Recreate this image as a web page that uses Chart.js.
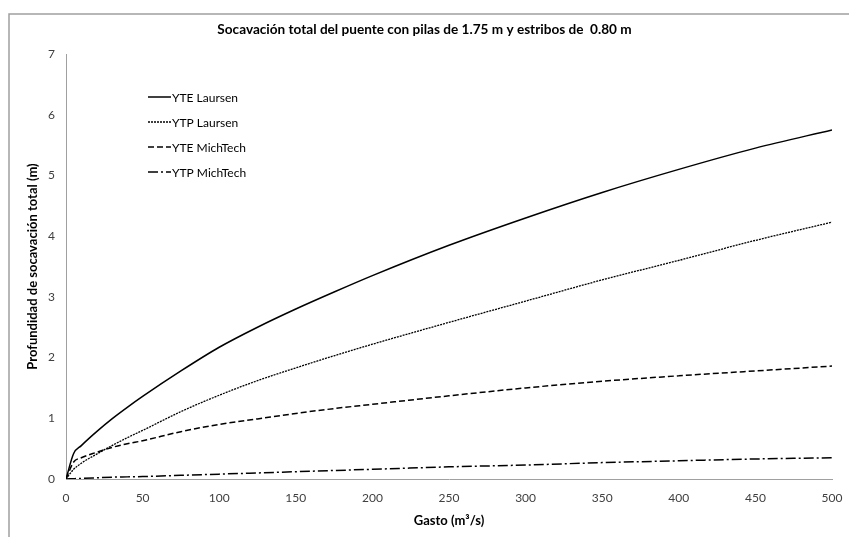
<!DOCTYPE html>
<html>
<head>
<meta charset="utf-8">
<script src="https://cdn.jsdelivr.net/npm/chart.js@4.4.0/dist/chart.umd.min.js"></script>
<style>
  html, body { margin: 0; padding: 0; background: #fff; }
  #wrap { width: 849px; height: 537px; }
</style>
</head>
<body>
<div id="wrap"><canvas id="myChart" width="849" height="537"></canvas></div>
<script>
// Gasto (m3/s)
const gasto = [0, 5, 10, 20, 30, 40, 50, 75, 100, 125, 150, 175, 200, 250, 300, 350, 400, 450, 500];
// profundidad de socavacion total (m)
const yteLaursen = [0, 0.42, 0.55, 0.78, 0.99, 1.18, 1.36, 1.78, 2.17, 2.50, 2.80, 3.08, 3.35, 3.85, 4.30, 4.72, 5.10, 5.45, 5.75];
const ytpLaursen = [0, 0.16, 0.26, 0.41, 0.55, 0.68, 0.80, 1.11, 1.38, 1.62, 1.83, 2.03, 2.22, 2.58, 2.93, 3.28, 3.60, 3.93, 4.23];
const yteMichTech = [0, 0.28, 0.35, 0.44, 0.52, 0.58, 0.63, 0.78, 0.90, 0.99, 1.08, 1.16, 1.23, 1.37, 1.50, 1.61, 1.70, 1.78, 1.86];
const ytpMichTech = [0, 0.005, 0.01, 0.02, 0.03, 0.035, 0.04, 0.06, 0.08, 0.10, 0.12, 0.14, 0.16, 0.20, 0.23, 0.27, 0.30, 0.33, 0.35];
const xTicks = [0, 50, 100, 150, 200, 250, 300, 350, 400, 450, 500];
const yTicks = [0, 1, 2, 3, 4, 5, 6, 7];

const FONT = 'Lato, "Open Sans", sans-serif';

function pts(values) {
    return gasto.map((q, i) => ({ x: q, y: values[i] }));
}

// frame of the chart area (only the top and left edges show)
const framePlugin = {
    id: 'frame',
    beforeDraw(chart) {
        const ctx = chart.ctx;
        ctx.save();
        ctx.strokeStyle = '#a0a0a0';
        ctx.lineWidth = 1.5;
        ctx.beginPath();
        ctx.moveTo(9, 537);
        ctx.lineTo(9, 14);
        ctx.lineTo(849, 14);
        ctx.stroke();
        ctx.restore();
    }
};

// legend inside the plot, line sample then label
const legendPlugin = {
    id: 'insideLegend',
    afterDraw(chart) {
        const ctx = chart.ctx;
        ctx.save();
        ctx.font = '12px ' + FONT;
        ctx.textBaseline = 'middle';
        chart.data.datasets.forEach((ds, i) => {
            const y = 97 + i * 25;
            ctx.strokeStyle = '#000';
            ctx.lineWidth = ds.borderWidth;
            ctx.setLineDash(ds.borderDash || []);
            ctx.beginPath();
            ctx.moveTo(148, y);
            ctx.lineTo(171, y);
            ctx.stroke();
            ctx.setLineDash([]);
            ctx.fillStyle = '#000';
            ctx.fillText(ds.label, 172, y + 1);
        });
        ctx.restore();
    }
};

const ctx = document.getElementById('myChart').getContext('2d');
const chart = new Chart(ctx, {
    type: 'line',
    data: {
        datasets: [{
            label: 'YTE Laursen',
            data: pts(yteLaursen),
            borderColor: '#000',
            borderWidth: 1.5,
            borderDash: []
        }, {
            label: 'YTP Laursen',
            data: pts(ytpLaursen),
            borderColor: '#000',
            borderWidth: 1.3,
            borderDash: [2, 1]
        }, {
            label: 'YTE MichTech',
            data: pts(yteMichTech),
            borderColor: '#000',
            borderWidth: 1.5,
            borderDash: [6, 3]
        }, {
            label: 'YTP MichTech',
            data: pts(ytpMichTech),
            borderColor: '#000',
            borderWidth: 1.5,
            borderDash: [10, 3, 2, 3]
        }]
    },
    options: {
        responsive: false,
        animation: false,
        devicePixelRatio: 1,
        layout: { padding: 0 },
        elements: {
            point: { radius: 0 },
            line: { tension: 0.4, cubicInterpolationMode: 'monotone', fill: false }
        },
        plugins: {
            legend: { display: false },
            tooltip: { enabled: false },
            title: {
                display: true,
                text: 'Socavación total del puente con pilas de 1.75 m y estribos de  0.80 m',
                color: '#000',
                font: { family: FONT, size: 13.6, weight: 'bold', lineHeight: 1.2 },
                padding: { top: 21.5, bottom: 16.2 }
            }
        },
        scales: {
            x: {
                type: 'linear',
                position: 'bottom',
                min: 0,
                max: 500,
                afterFit: function(scale) {
                    scale.height = 58;
                    scale.paddingLeft = 0;
                    scale.paddingRight = 17;
                },
                afterBuildTicks: function(scale) { scale.ticks = xTicks.map(v => ({ value: v })); },
                grid: { display: false, drawTicks: false },
                border: { color: '#a0a0a0', width: 1 },
                ticks: { color: '#404040', padding: 12, maxRotation: 0, font: { family: FONT, size: 12 } },
                title: {
                    display: true,
                    text: 'Gasto (m³/s)',
                    color: '#000',
                    font: { family: FONT, size: 13, weight: 'bold' },
                    padding: { top: 0, bottom: 8.2 }
                }
            },
            y: {
                min: 0,
                max: 7,
                afterFit: function(scale) {
                    scale.width = 66;
                    scale.paddingTop = 0;
                    scale.paddingBottom = 0;
                },
                afterBuildTicks: function(scale) { scale.ticks = yTicks.map(v => ({ value: v })); },
                grid: { display: false, drawTicks: false },
                border: { color: '#a0a0a0', width: 1 },
                ticks: { color: '#404040', padding: 11, font: { family: FONT, size: 12 } },
                title: {
                    display: true,
                    text: 'Profundidad de socavación total (m)',
                    color: '#000',
                    font: { family: FONT, size: 13, weight: 'bold' },
                    padding: { top: 25.2, bottom: 0 }
                }
            }
        }
    },
    plugins: [framePlugin, legendPlugin]
});
</script>
</body>
</html>
